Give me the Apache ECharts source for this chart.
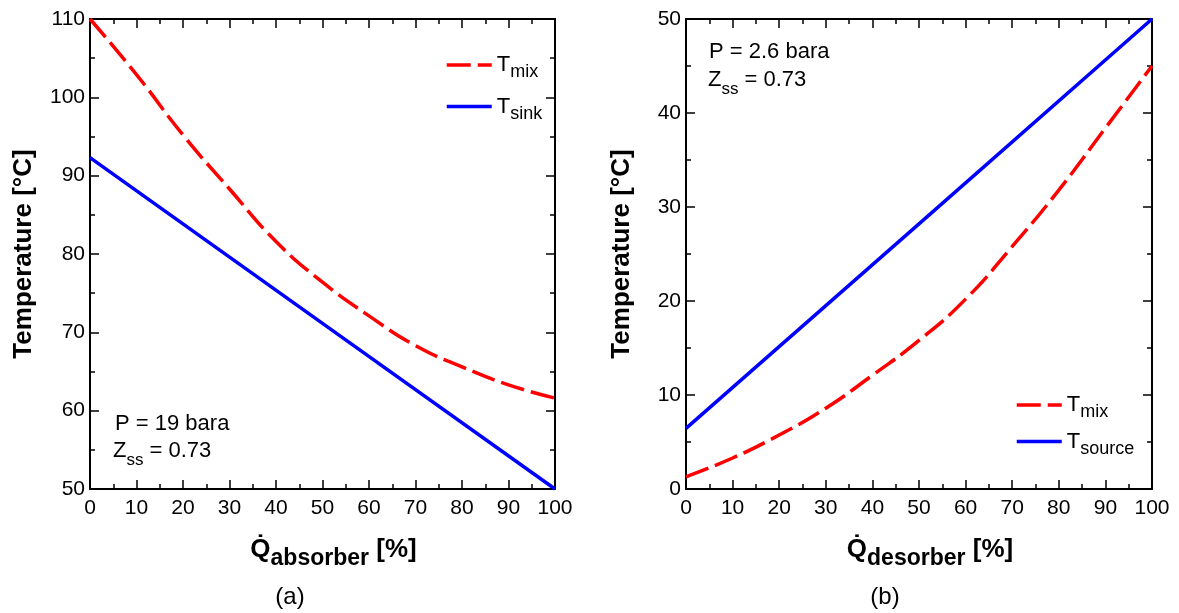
<!DOCTYPE html>
<html><head><meta charset="utf-8">
<script src="https://cdn.jsdelivr.net/npm/echarts@6/dist/echarts.min.js"></script>
<style>html,body{margin:0;padding:0;background:#fff}#c{width:1179px;height:613px}</style>
</head><body><div id="c"></div>
<script>
// ---- data (a) absorber ----
const xAbs = [0, 10, 20, 30, 40, 50, 60, 70, 80, 90, 100];
const tMixAbs = [110, 102.9, 95.2, 88.3, 81.6, 76.4, 72.1, 68.3, 65.6, 63.3, 61.6];
const xSink = [0, 50, 100];
const tSink = [92.3, 71.15, 50];
// ---- data (b) desorber ----
const xDes = [0, 10, 20, 30, 40, 50, 60, 70, 80, 90, 100];
const tMixDes = [1.3, 3.3, 5.75, 8.6, 12.1, 15.8, 20.2, 25.8, 31.8, 38.4, 45.0];
const xSource = [0, 50, 100];
const tSource = [6.45, 28.2, 50];
// axis ranges
const xRange = [0, 100];
const yRangeA = [50, 110];
const yRangeB = [0, 50];

const FF = "'Liberation Sans', Arial, sans-serif";
const pairs = (xs, ys) => xs.map((x, i) => [x, ys[i]]);

function xAxis(grid, pos, showLabel, name) {
  return {
    type: 'value', gridIndex: grid, position: pos, min: xRange[0], max: xRange[1], interval: 10,
    axisLine: { onZero: false, lineStyle: { color: '#000', width: 2 } },
    axisTick: { inside: true, length: 9, lineStyle: { color: '#000', width: 1.5 } },
    minorTick: { show: true, splitNumber: 2, length: 5, lineStyle: { color: '#000', width: 1.5 } },
    splitLine: { show: false }, minorSplitLine: { show: false },
    axisLabel: { show: showLabel, color: '#000', fontSize: 21, fontFamily: FF, margin: 9, showMinLabel: true, showMaxLabel: true },
    name: name || '', nameLocation: 'middle', nameGap: 40,
    nameTextStyle: {
      color: '#000', fontFamily: FF, fontWeight: 'bold', padding: [0, 0, 0, 22],
      rich: {
        q: { fontSize: 26, fontWeight: 'bold', fontFamily: FF, color: '#000' },
        s: { fontSize: 23, fontWeight: 'bold', fontFamily: FF, color: '#000', padding: [18, 0, 0, 0] },
        b: { fontSize: 26, fontWeight: 'bold', fontFamily: FF, color: '#000' }
      }
    }
  };
}
function yAxis(grid, pos, showLabel, range, name, gap) {
  return {
    type: 'value', gridIndex: grid, position: pos, min: range[0], max: range[1], interval: 10,
    axisLine: { onZero: false, lineStyle: { color: '#000', width: 2 } },
    axisTick: { inside: true, length: 9, lineStyle: { color: '#000', width: 1.5 } },
    minorTick: { show: true, splitNumber: 2, length: 5, lineStyle: { color: '#000', width: 1.5 } },
    splitLine: { show: false }, minorSplitLine: { show: false },
    axisLabel: { show: showLabel, color: '#000', fontSize: 21, fontFamily: FF, margin: 5, showMinLabel: true, showMaxLabel: true },
    name: name || '', nameLocation: 'middle', nameGap: gap || 50,
    nameTextStyle: { color: '#000', fontFamily: FF, fontWeight: 'bold', fontSize: 26 }
  };
}

const legendRich = {
  t: { fontSize: 22, fontFamily: FF, color: '#000' },
  s: { fontSize: 18, fontFamily: FF, color: '#000', padding: [15, 0, 0, 0] }
};
const legendNames = { mixA: '{t|T}{s|mix}', sink: '{t|T}{s|sink}', mixB: '{t|T}{s|mix}', source: '{t|T}{s|source}' };

const annRich = {
  z: { fontSize: 22, fontFamily: FF, fill: '#000' },
  s: { fontSize: 17, fontFamily: FF, fill: '#000', padding: [18, 0, 0, 0] }
};

const chart = echarts.init(document.getElementById('c'), null, { renderer: 'canvas' });
const redStyle = { color: '#ff0000', width: 3.5, type: [24, 7] };
const blueStyle = { color: '#0000ff', width: 3.5, type: 'solid' };
const legendCommon = {
  orient: 'vertical', itemWidth: 45, itemHeight: 14, selectedMode: false,
  itemStyle: { opacity: 0 },
  lineStyle: { width: 3.5 },
  formatter: n => legendNames[n],
  textStyle: { color: '#000', fontFamily: FF, fontSize: 22, rich: legendRich }
};

chart.setOption({
  backgroundColor: '#fff',
  animation: false,
  grid: [
    { left: 90, top: 19, width: 465, height: 470 },
    { left: 686, top: 19, width: 466, height: 470 }
  ],
  xAxis: [
    xAxis(0, 'bottom', true, '{q|Q\u0307}{s|absorber}{b| [%]}'),
    xAxis(0, 'top', false),
    xAxis(1, 'bottom', true, '{q|Q\u0307}{s|desorber}{b| [%]}'),
    xAxis(1, 'top', false)
  ],
  yAxis: [
    yAxis(0, 'left', true, yRangeA, 'Temperature [°C]', 53),
    yAxis(0, 'right', false, yRangeA),
    yAxis(1, 'left', true, yRangeB, 'Temperature [°C]', 51),
    yAxis(1, 'right', false, yRangeB)
  ],
  legend: [
    Object.assign({ data: ['mixA', 'sink'], left: 440, top: 49, itemGap: 14 }, legendCommon),
    Object.assign({ data: ['mixB', 'source'], left: 1010, top: 389, itemGap: 9 }, legendCommon)
  ],
  series: [
    { name: 'mixA', type: 'line', xAxisIndex: 0, yAxisIndex: 0, data: pairs(xAbs, tMixAbs), smooth: 0.5, symbol: 'none', lineStyle: redStyle, itemStyle: { color: '#ff0000' } },
    { name: 'sink', type: 'line', xAxisIndex: 0, yAxisIndex: 0, data: pairs(xSink, tSink), symbol: 'none', lineStyle: blueStyle, itemStyle: { color: '#0000ff' } },
    { name: 'mixB', type: 'line', xAxisIndex: 2, yAxisIndex: 2, data: pairs(xDes, tMixDes), smooth: 0.5, symbol: 'none', lineStyle: redStyle, itemStyle: { color: '#ff0000' } },
    { name: 'source', type: 'line', xAxisIndex: 2, yAxisIndex: 2, data: pairs(xSource, tSource), symbol: 'none', lineStyle: blueStyle, itemStyle: { color: '#0000ff' } }
  ],
  graphic: [
    { type: 'text', x: 115, y: 424, style: { text: 'P = 19 bara', fontSize: 22, fontFamily: FF, fill: '#000', verticalAlign: 'middle' } },
    { type: 'text', x: 113, y: 451, style: { text: '{z|Z}{s|ss}{z| = 0.73}', rich: annRich, verticalAlign: 'middle' } },
    { type: 'text', x: 709, y: 52, style: { text: 'P = 2.6 bara', fontSize: 22, fontFamily: FF, fill: '#000', verticalAlign: 'middle' } },
    { type: 'text', x: 708, y: 80, style: { text: '{z|Z}{s|ss}{z| = 0.73}', rich: annRich, verticalAlign: 'middle' } },
    { type: 'text', x: 290, y: 597, style: { text: '(a)', fontSize: 24, fontFamily: FF, fill: '#000', align: 'center', verticalAlign: 'middle' } },
    { type: 'text', x: 885, y: 597, style: { text: '(b)', fontSize: 24, fontFamily: FF, fill: '#000', align: 'center', verticalAlign: 'middle' } }
  ]
});
</script></body></html>
